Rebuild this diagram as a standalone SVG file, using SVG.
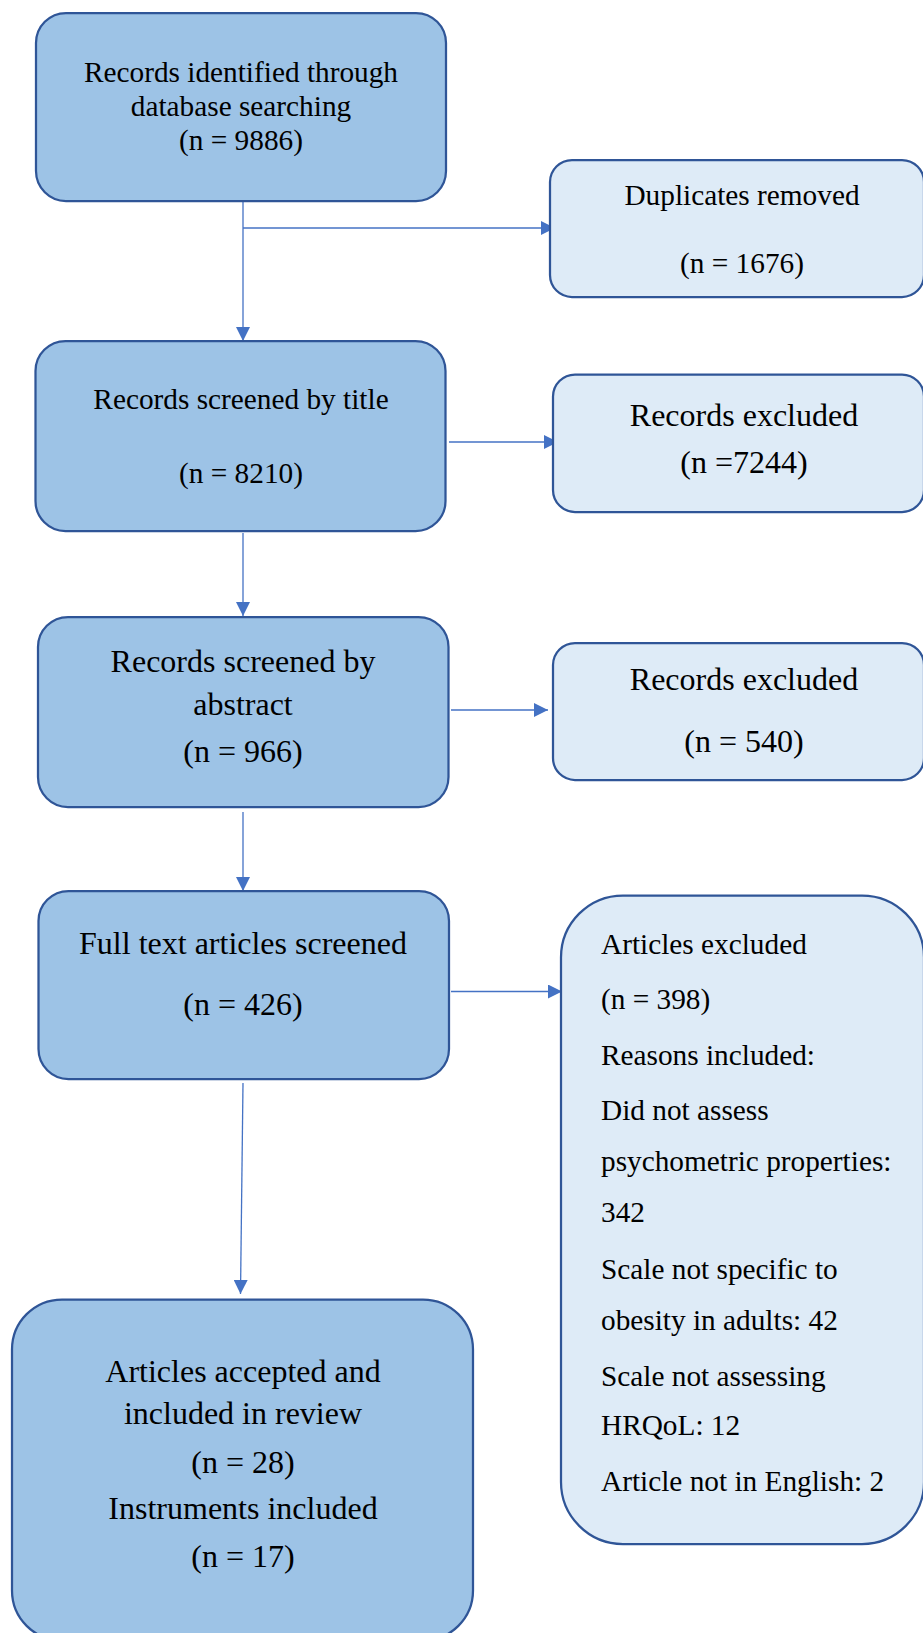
<svg xmlns="http://www.w3.org/2000/svg" width="923" height="1633" viewBox="0 0 923 1633">
<defs>
<style>
.dark{fill:#9DC3E6;stroke:#2F5597;stroke-width:2.25}
.light{fill:#DEEBF7;stroke:#2F5597;stroke-width:2.25}
text{font-family:"Liberation Serif","Times New Roman",serif;fill:#000}
.s{font-size:29.3px}
.b{font-size:32px}
.c{text-anchor:middle}
.conn{fill:none;stroke:#4472C4;stroke-width:1.3}
</style>
<marker id="ah" markerWidth="15" markerHeight="14" refX="14" refY="7" orient="auto" markerUnits="userSpaceOnUse">
<path d="M0,0 L14,7 L0,14 Z" fill="#4472C4"/>
</marker>
</defs>
<rect width="923" height="1633" fill="#fff"/>

<g id="connectors">
<path class="conn" d="M243,201 V341" marker-end="url(#ah)"/>
<path class="conn" d="M243,228 H555" marker-end="url(#ah)"/>
<path class="conn" d="M449,442 H558" marker-end="url(#ah)"/>
<path class="conn" d="M243,533 V616" marker-end="url(#ah)"/>
<path class="conn" d="M451,710 H548" marker-end="url(#ah)"/>
<path class="conn" d="M243,812 V891" marker-end="url(#ah)"/>
<path class="conn" d="M451,991.5 H562" marker-end="url(#ah)"/>
<path class="conn" d="M243,1083 L240.5,1294" marker-end="url(#ah)"/>
</g>

<g id="records-identified">
<rect class="dark" x="36" y="13" width="410" height="188" rx="30"/>
<text class="s c" x="241" y="82">Records identified through</text>
<text class="s c" x="241" y="116">database searching</text>
<text class="s c" x="241" y="150">(n = 9886)</text>
</g>

<g id="duplicates-removed">
<rect class="light" x="550" y="160" width="374" height="137" rx="22"/>
<text class="s c" x="742" y="205">Duplicates removed</text>
<text class="s c" x="742" y="273">(n = 1676)</text>
</g>

<g id="screened-title">
<rect class="dark" x="35.5" y="341" width="410" height="190" rx="30"/>
<text class="s c" x="241" y="409">Records screened by title</text>
<text class="s c" x="241" y="483">(n = 8210)</text>
</g>

<g id="excluded-title">
<rect class="light" x="553" y="374.5" width="371" height="137.5" rx="22"/>
<text class="b c" x="744" y="426">Records excluded</text>
<text class="b c" x="744" y="473">(n =7244)</text>
</g>

<g id="screened-abstract">
<rect class="dark" x="38" y="617" width="410.5" height="190" rx="30"/>
<text class="b c" x="243" y="672">Records screened by</text>
<text class="b c" x="243" y="715">abstract</text>
<text class="b c" x="243" y="762">(n = 966)</text>
</g>

<g id="excluded-abstract">
<rect class="light" x="553" y="643" width="371" height="137" rx="22"/>
<text class="b c" x="744" y="690">Records excluded</text>
<text class="b c" x="744" y="752">(n = 540)</text>
</g>

<g id="full-text">
<rect class="dark" x="38.5" y="891" width="410.5" height="188" rx="30"/>
<text class="b c" x="243" y="954">Full text articles screened</text>
<text class="b c" x="243" y="1015">(n = 426)</text>
</g>

<g id="articles-excluded">
<rect class="light" x="561" y="895.5" width="363" height="648.5" rx="62"/>
<text class="s" x="601" y="954">Articles excluded</text>
<text class="s" x="601" y="1009">(n = 398)</text>
<text class="s" x="601" y="1065">Reasons included:</text>
<text class="s" x="601" y="1120">Did not assess</text>
<text class="s" x="601" y="1171">psychometric properties:</text>
<text class="s" x="601" y="1222">342</text>
<text class="s" x="601" y="1279">Scale not specific to</text>
<text class="s" x="601" y="1330">obesity in adults: 42</text>
<text class="s" x="601" y="1386">Scale not assessing</text>
<text class="s" x="601" y="1435">HRQoL: 12</text>
<text class="s" x="601" y="1491">Article not in English: 2</text>
</g>

<g id="articles-accepted">
<rect class="dark" x="12" y="1299.5" width="461" height="341" rx="50"/>
<text class="b c" x="243" y="1382">Articles accepted and</text>
<text class="b c" x="243" y="1424">included in review</text>
<text class="b c" x="243" y="1473">(n = 28)</text>
<text class="b c" x="243" y="1519">Instruments included</text>
<text class="b c" x="243" y="1567">(n = 17)</text>
</g>
</svg>
